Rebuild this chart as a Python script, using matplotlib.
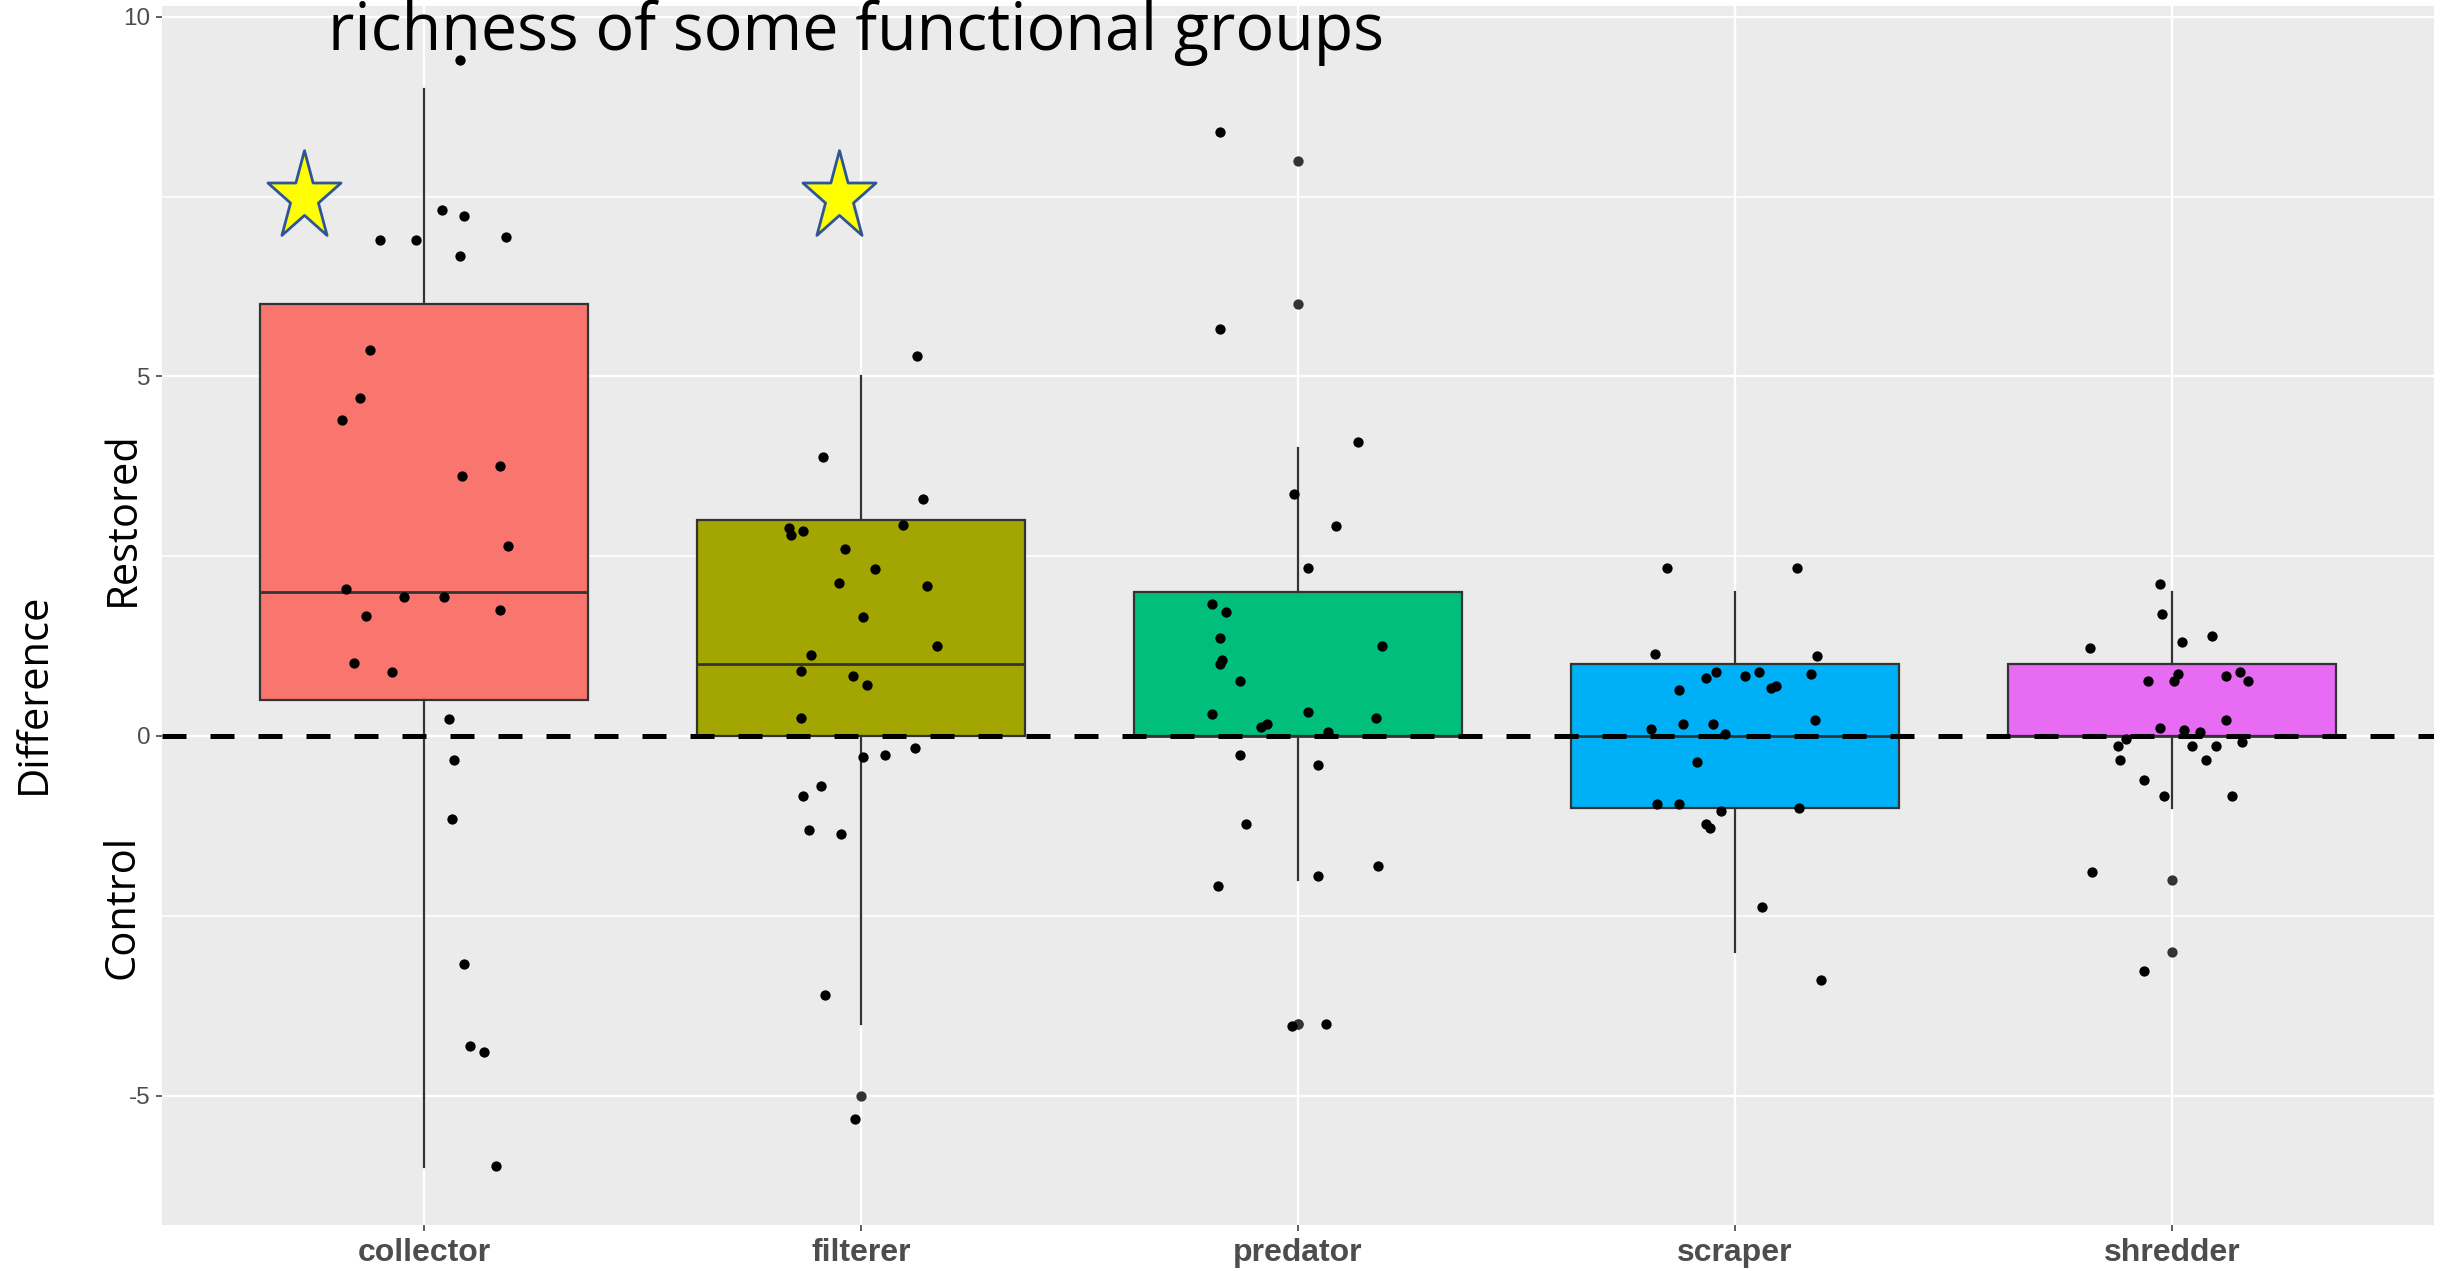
import numpy as np
import matplotlib
matplotlib.use("Agg")
import matplotlib.pyplot as plt
from matplotlib.path import Path

# ---- data ----
groups = ["collector", "filterer", "predator", "scraper", "shredder"]
fills = ["#F8766D", "#A3A500", "#00BF7D", "#00B0F6", "#E76BF3"]

box_q1 = [0.5, 0, 0, -1, 0]
box_med = [2, 1, 0, 0, 0]
box_q3 = [6, 3, 2, 1, 1]
whisker_lo = [-6, -4, -2, -3, -1]
whisker_hi = [9, 5, 4, 2, 2]
outliers = [[], [-5], [8, 6, -4, -4], [], [-2, -3]]

# jittered points: horizontal offset from the group centre, and value
collector_dx = [0.082, 0.040, 0.091, -0.101, -0.019, 0.187, 0.082, -0.124, -0.147,
                -0.188, 0.086, 0.173, 0.192, -0.179, -0.047, 0.045, -0.133, 0.173,
                -0.161, -0.074, 0.058, 0.068, 0.063, 0.091, 0.105, 0.137, 0.164]
collector_y = [9.40, 7.31, 7.23, 6.89, 6.89, 6.94, 6.67, 5.36, 4.70,
               4.40, 3.61, 3.75, 2.64, 2.05, 1.93, 1.93, 1.67, 1.75,
               1.01, 0.89, 0.24, -0.33, -1.16, -3.17, -4.31, -4.39, -5.98]

filterer_dx = [0.128, -0.087, 0.142, -0.165, -0.160, -0.133, 0.096, -0.037, 0.032,
               -0.050, 0.151, 0.005, 0.174, -0.114, -0.137, -0.018, 0.014, -0.137,
               0.005, 0.055, 0.124, -0.092, -0.133, -0.119, -0.046, -0.082, -0.014]
filterer_y = [5.29, 3.88, 3.29, 2.89, 2.80, 2.85, 2.93, 2.60, 2.32,
              2.13, 2.08, 1.66, 1.25, 1.13, 0.91, 0.83, 0.71, 0.25,
              -0.29, -0.26, -0.17, -0.70, -0.83, -1.31, -1.36, -3.60, -5.33]

predator_dx = [-0.178, -0.178, 0.137, -0.009, 0.086, 0.023, -0.197, -0.165, -0.178,
               -0.174, -0.178, 0.192, -0.133, -0.197, 0.023, 0.178, -0.084, -0.072,
               0.069, -0.133, 0.046, -0.119, 0.183, 0.046, -0.183, -0.014, 0.064]
predator_y = [8.40, 5.66, 4.09, 3.36, 2.92, 2.33, 1.84, 1.72, 1.36,
              1.05, 1.00, 1.25, 0.77, 0.30, 0.33, 0.25, 0.13, 0.16,
              0.05, -0.26, -0.40, -1.23, -1.81, -1.95, -2.09, -4.03, -4.01]

scraper_dx = [-0.156, 0.142, -0.184, 0.188, -0.043, -0.066, 0.022, 0.054, 0.173,
              -0.128, 0.082, 0.095, 0.183, -0.119, -0.050, -0.192, -0.023, -0.087,
              -0.178, -0.128, 0.146, -0.033, -0.066, -0.056, 0.063, 0.196]
scraper_y = [2.33, 2.33, 1.14, 1.11, 0.89, 0.80, 0.83, 0.89, 0.86,
             0.64, 0.67, 0.69, 0.22, 0.17, 0.17, 0.09, 0.03, -0.36,
             -0.94, -0.94, -1.00, -1.05, -1.22, -1.28, -2.38, -3.39]

shredder_dx = [-0.027, -0.023, 0.023, 0.092, -0.188, -0.055, 0.005, 0.014, 0.124,
               0.156, 0.174, 0.124, -0.027, 0.027, 0.064, -0.105, 0.160, -0.124,
               0.046, 0.101, -0.119, 0.078, -0.064, -0.018, 0.137, -0.183, -0.064]
shredder_y = [2.11, 1.69, 1.30, 1.39, 1.22, 0.77, 0.77, 0.86, 0.83,
              0.89, 0.77, 0.22, 0.11, 0.08, 0.05, -0.04, -0.08, -0.14,
              -0.14, -0.14, -0.34, -0.34, -0.61, -0.84, -0.84, -1.89, -3.27]

point_dx = [collector_dx, filterer_dx, predator_dx, scraper_dx, shredder_dx]
point_y = [collector_y, filterer_y, predator_y, scraper_y, shredder_y]

star_x = [0.726, 1.95]
star_y = [7.5, 7.5]

# ---- figure ----
W, H = 2446, 1271
fig = plt.figure(figsize=(W / 100, H / 100), dpi=100)
ax = fig.add_axes([162 / W, 46 / H, 2272 / W, 1219 / H])
ax.set_facecolor("#EBEBEB")
for sp in ax.spines.values():
    sp.set_visible(False)

ax.set_xlim(0.4, 5.6)
ax.set_ylim(-6.80, 10.15)

# grid
for v in [-2.5, 2.5, 7.5]:
    ax.axhline(v, color="white", lw=1.1, zorder=0)
for v in [-5, 0, 5, 10]:
    ax.axhline(v, color="white", lw=1.7, zorder=0)
for i in range(len(groups)):
    ax.axvline(i + 1, color="white", lw=1.7, zorder=0)

stats = []
for i, g in enumerate(groups):
    stats.append({
        "label": g,
        "q1": box_q1[i],
        "med": box_med[i],
        "q3": box_q3[i],
        "whislo": whisker_lo[i],
        "whishi": whisker_hi[i],
        "fliers": outliers[i],
    })

bp = ax.bxp(
    stats,
    positions=range(1, len(groups) + 1),
    widths=0.75,
    patch_artist=True,
    showcaps=False,
    showfliers=True,
    boxprops=dict(edgecolor="#333333", linewidth=1.6),
    whiskerprops=dict(color="#333333", linewidth=1.6),
    medianprops=dict(color="#333333", linewidth=2.0),
    flierprops=dict(marker="o", markerfacecolor="#333333", markeredgecolor="none",
                    markersize=7.4),
    zorder=2,
)
for patch, c in zip(bp["boxes"], fills):
    patch.set_facecolor(c)
for fl in bp["fliers"]:
    fl.set_zorder(3)

ax.axhline(0, color="black", lw=3.6, ls=(0, (4.8, 4.8)), zorder=3.5)

for i in range(len(groups)):
    xs = i + 1 + np.asarray(point_dx[i])
    ax.scatter(xs, point_y[i], s=55, color="black", linewidths=0, zorder=4)

# stars
ang = np.pi / 2 + np.arange(10) * np.pi / 5
rad = np.where(np.arange(10) % 2 == 0, 1.0, 0.382)
star_verts = np.column_stack([0.82 * rad * np.cos(ang), rad * np.sin(ang)])
star_verts = np.vstack([star_verts, star_verts[:1]])
star_marker = Path(star_verts, closed=True)
ax.plot(star_x, star_y, ls="none", marker=star_marker, markersize=67.5,
        markerfacecolor="#FFFF00", markeredgecolor="#2F5597", markeredgewidth=2.0,
        zorder=5)

# ticks
ax.set_xticks(range(1, len(groups) + 1))
ax.set_xticklabels(groups, fontsize=23, fontweight="bold", color="#4D4D4D",
                   family=["Liberation Sans", "DejaVu Sans"])
ax.set_yticks([-5, 0, 5, 10])
ax.set_yticklabels(["-5", "0", "5", "10"], fontsize=17.5, color="#4D4D4D",
                   family=["Liberation Sans", "DejaVu Sans"])
ax.tick_params(axis="both", length=4.5, width=1.1, color="#333333")
ax.tick_params(axis="x", pad=5)
ax.tick_params(axis="y", pad=4)

# overlay texts
label_font = ["Open Sans", "DejaVu Sans"]
fig.text(328 / W, 1 - 50 / H, "richness of some functional groups",
         fontsize=46.5, family=label_font, ha="left", va="baseline", color="black")
fig.text(34 / W, 1 - 693 / H, "Difference", rotation=90, fontsize=30,
         family=label_font, ha="center", va="center")
fig.text(123 / W, 1 - 519 / H, "Restored", rotation=90, fontsize=30,
         family=label_font, ha="center", va="center")
fig.text(123 / W, 1 - 907 / H, "Control", rotation=90, fontsize=30,
         family=label_font, ha="center", va="center")

fig.savefig("out.png", dpi=100, facecolor="white")
